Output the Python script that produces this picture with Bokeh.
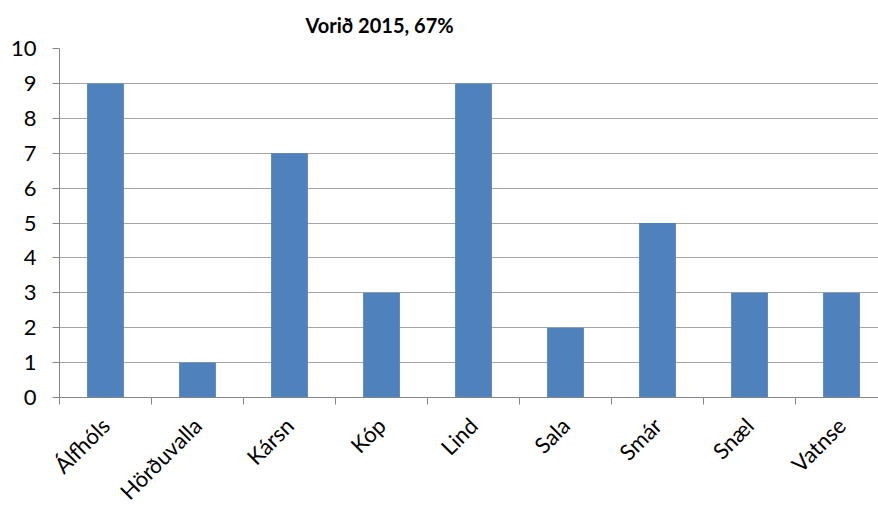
import math
from bokeh.plotting import figure
from bokeh.models import FixedTicker, ColumnDataSource
from bokeh.embed import file_html
from bokeh.resources import INLINE

schools = ["Álfhóls", "Hörðuvalla", "Kársn", "Kóp", "Lind", "Sala", "Smár", "Snæl", "Vatnse"]
counts = [9, 1, 7, 3, 9, 2, 5, 3, 3]
y_ticks = [0, 1, 2, 3, 4, 5, 6, 7, 8, 9, 10]
title_text = "Vorið 2015, 67%"

centers = [i + 0.5 for i in range(len(schools))]
src = ColumnDataSource(dict(x=centers, top=counts))

FONT = "Lato"
p = figure(frame_width=819, frame_height=349, output_backend="svg", toolbar_location=None,
           x_range=(0, 8.902), y_range=(0, 10),
           min_border_left=59, min_border_right=0, min_border_top=48, min_border_bottom=120)
p.outline_line_color = None

p.title.text = title_text
p.title.text_font = FONT
p.title.text_font_size = "20px"
p.title.text_font_style = "bold"
p.title.text_color = "black"
p.title.align = "left"
p.title.offset = 246
p.title.vertical_align = "top"
p.title.standoff = 19

p.vbar(x="x", top="top", width=0.4, source=src, fill_color="#4F81BD", line_color=None)

p.xgrid.visible = False
p.ygrid.ticker = FixedTicker(ticks=y_ticks)
p.ygrid.grid_line_color = "#A6A6A6"
p.ygrid.grid_line_width = 1

xa = p.xaxis[0]
xa.ticker = FixedTicker(ticks=centers, minor_ticks=list(range(len(schools) + 1)))
xa.major_label_overrides = {c: s for c, s in zip(centers, schools)}
xa.major_label_orientation = math.pi / 4
xa.major_tick_out = 0
xa.major_tick_in = 0
xa.minor_tick_out = 7
xa.minor_tick_in = 0
xa.minor_tick_line_color = "#868686"
xa.axis_line_color = "#868686"
xa.major_label_text_font = FONT
xa.major_label_text_font_size = "22px"
xa.major_label_text_color = "black"
xa.major_label_standoff = 17

ya = p.yaxis[0]
ya.ticker = FixedTicker(ticks=y_ticks)
ya.axis_line_color = "#868686"
ya.major_tick_line_color = "#868686"
ya.major_tick_out = 7
ya.major_tick_in = 0
ya.minor_tick_line_color = None
ya.major_label_text_font = FONT
ya.major_label_text_font_size = "22px"
ya.major_label_text_color = "black"
ya.major_label_standoff = 16

open("out.html", "w").write(file_html(p, INLINE))
